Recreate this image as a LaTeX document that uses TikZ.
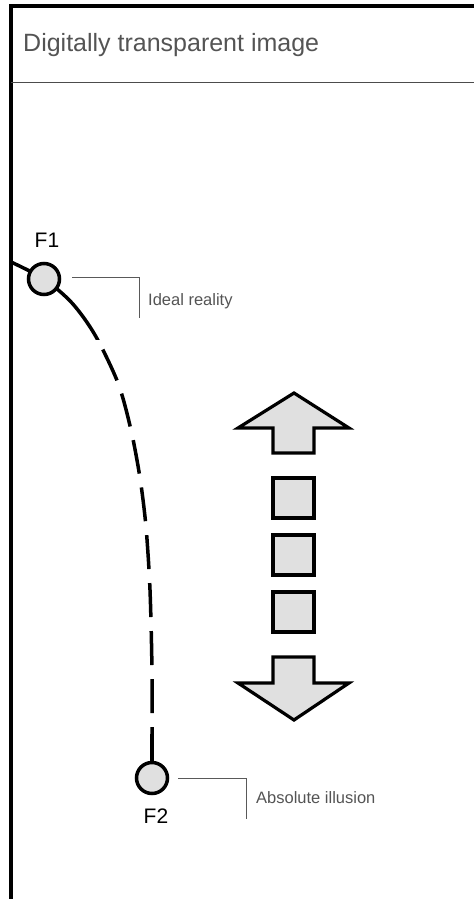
\documentclass[tikz,border=0pt]{standalone}
\usepackage{fontspec}
\setmainfont{Liberation Sans}
\begin{document}
\begin{tikzpicture}[x=1pt,y=-1pt,
  framestyle/.style={line width=3.5pt,black},
  sepline/.style={line width=1pt,draw=black!70},
  calloutline/.style={line width=1pt,draw=black!65},
  dot/.style={circle,draw=black,line width=3.5pt,fill=black!12,minimum size=31pt,inner sep=0pt},
  shapebox/.style={draw=black,line width=3.2pt,fill=black!12,line join=miter},
  headtext/.style={font=\fontsize{25}{30}\selectfont,text=black!67,inner sep=0pt},
  labeltext/.style={font=\fontsize{16.5}{20}\selectfont,text=black!67,inner sep=0pt},
  fname/.style={font=\fontsize{21}{25}\selectfont,text=black,inner sep=0pt},
  curve/.style={line width=3.5pt,black}
]
\useasboundingbox (0,0) rectangle (474,899);
% frame
\coordinate (tl) at (11,6);
\coordinate (tr) at (474,6);
\coordinate (bl) at (11,899);
\draw[framestyle] (bl) -- (tl) -- (tr);
\coordinate (sl) at (11,82);
\coordinate (sr) at (474,82);
\draw[sepline] (sl) -- (sr);
\node[headtext,anchor=base west] (title) at (23,52) {Digitally transparent image};

% curve
\def\curvepath{plot[smooth] coordinates {(11,262) (44,279) (72,303) (95,335) (118,383) (131,430) (140,478) (146,527) (150,590) (152,672) (152,745)}}
\begin{scope}
  \clip (0,0) rectangle (474,339);
  \draw[curve] \curvepath;
\end{scope}
\begin{scope}
  \clip (0,339) rectangle (474,734);
  \draw[curve,dash pattern=on 34pt off 14pt,dash phase=14pt] \curvepath;
\end{scope}
\node[dot] (f1) at (44,279) {};
\node[dot] (f2) at (152,778) {};
\coordinate (c2) at (152,734);
\draw[curve] (c2) -- (f2.north);

\node[fname,anchor=base] (f1lab) at (47,247) {F1};
\node[fname,anchor=base] (f2lab) at (156,823) {F2};

% callouts
\coordinate (a1) at (72,277);
\coordinate (a2) at (139,277);
\coordinate (a3) at (139,318);
\draw[calloutline] (a1) -- (a2) -- (a3);
\node[labeltext,anchor=base west] (ideal) at (148,305) {Ideal reality};
\coordinate (b1) at (178,778);
\coordinate (b2) at (246,778);
\coordinate (b3) at (246,819);
\draw[calloutline] (b1) -- (b2) -- (b3);
\node[labeltext,anchor=base west] (absil) at (256,803) {Absolute illusion};

% arrows
\draw[shapebox] (294,393) -- (349,428) -- (314,428) -- (314,453) -- (273,453) -- (273,428) -- (238,428) -- cycle;
\draw[shapebox] (273,478) rectangle (314,518);
\draw[shapebox] (273,535) rectangle (314,575);
\draw[shapebox] (273,592) rectangle (314,632);
\draw[shapebox] (273,657) -- (314,657) -- (314,683) -- (349,683) -- (294,720) -- (238,683) -- (273,683) -- cycle;
\end{tikzpicture}
\end{document}
